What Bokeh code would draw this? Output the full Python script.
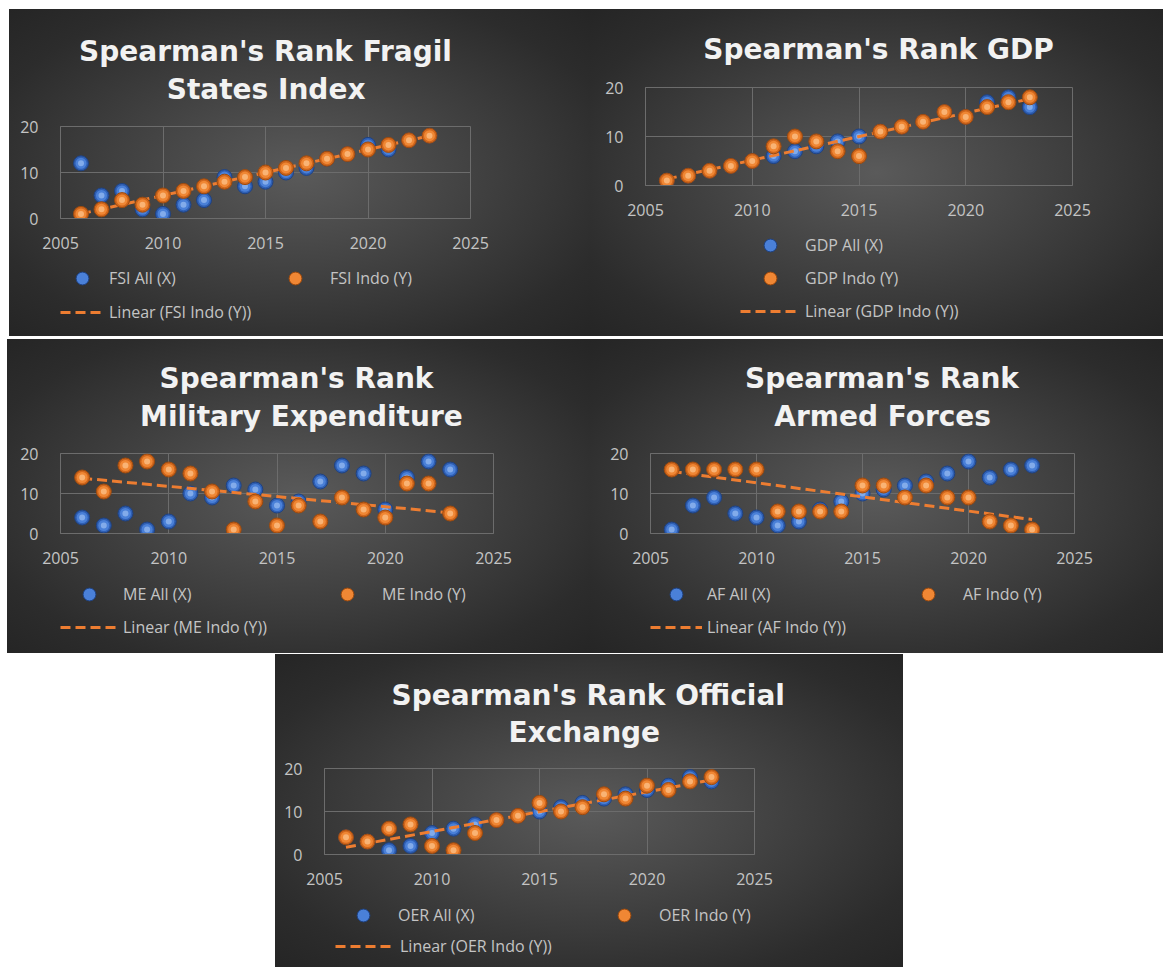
import numpy as np
from bokeh.plotting import figure
from bokeh.models import FixedTicker, Legend, LegendItem, Spacer, Row, Column
from bokeh.embed import file_html
from bokeh.resources import INLINE

years = list(range(2006, 2024))

fsi_all = [12, 5, 6, 2, 1, 3, 4, 9, 7, 8, 10, 11, 13, 14, 16, 15, 17, 18]
fsi_indo = [1, 2, 4, 3, 5, 6, 7, 8, 9, 10, 11, 12, 13, 14, 15, 16, 17, 18]

gdp_all = [1, 2, 3, 4, 5, 6, 7, 8, 9, 10, 11, 12, 13, 15, 14, 17, 18, 16]
gdp_indo = [1, 2, 3, 4, 5, 8, 10, 9, 7, 6, 11, 12, 13, 15, 14, 16, 17, 18]

me_all = [4, 2, 5, 1, 3, 10, 9, 12, 11, 7, 8, 13, 17, 15, 6, 14, 18, 16]
me_indo = [14, 10.5, 17, 18, 16, 15, 10.5, 1, 8, 2, 7, 3, 9, 6, 4, 12.5, 12.5, 5]

af_all = [1, 7, 9, 5, 4, 2, 3, 6, 8, 10, 11, 12, 13, 15, 18, 14, 16, 17]
af_indo = [16, 16, 16, 16, 16, 5.5, 5.5, 5.5, 5.5, 12, 12, 9, 12, 9, 9, 3, 2, 1]

oer_all = [4, 3, 1, 2, 5, 6, 7, 8, 9, 10, 11, 12, 13, 14, 15, 16, 18, 17]
oer_indo = [4, 3, 6, 7, 2, 1, 5, 8, 9, 12, 10, 11, 14, 13, 16, 15, 17, 18]

x_ticks = [2005, 2010, 2015, 2020, 2025]
y_ticks = [0, 10, 20]

TXT = "#c4c4c4"
GRID = "#6c6c6c"
FONT = "Open Sans"
TFONT = "DejaVu Sans"
BG = ("radial-gradient(ellipse at 50% 50%, #5a5a5a 0%, #434343 40%, "
      "#2c2c2c 80%, #252525 100%)")
NB = "\u00a0"
AXH = 44


def spheres(p, x, y, dark, edge, mid, light):
    r1 = p.scatter(x, y, size=15, fill_color=dark, line_color=edge,
                   line_width=1)
    r2 = p.scatter(x, y, size=11, fill_color=mid, line_alpha=0)
    r3 = p.scatter(x, y, size=6, fill_color=light, fill_alpha=0.6,
                   line_alpha=0)
    return [r1, r2, r3]


BLUE = ("#2f5fb3", "#1f4282", "#4a80d8", "#a9c8f6")
ORANGE = ("#d0661c", "#9c4a0e", "#f08734", "#ffd0a0")


def panel(lines, pads, standoff, prefix, all_v, indo_v, ox, oy, W, H,
          frame, leg):
    fx0, fx1, fy0, fy1 = frame
    hm = fy1 - oy + AXH
    p = figure(width=W, height=hm, x_range=(2005, 2025), y_range=(0, 20),
               output_backend="svg", toolbar_location=None,
               min_border_left=fx0 - ox, min_border_right=ox + W - fx1,
               min_border_top=fy0 - oy, min_border_bottom=AXH)
    p.background_fill_color = None
    p.border_fill_color = None
    p.outline_line_color = GRID
    p.title.text = "\n".join(NB * n + s for n, s in zip(pads, lines))
    p.title.align = "center"
    p.title.standoff = standoff
    p.title.text_font = TFONT
    p.title.text_font_style = "bold"
    p.title.text_font_size = "28px"
    p.title.text_color = "#f2f2f2"
    p.title.text_line_height = 1.15

    for ax, ticks in ((p.xaxis, x_ticks), (p.yaxis, y_ticks)):
        ax.ticker = FixedTicker(ticks=ticks)
        ax.major_tick_line_color = None
        ax.minor_tick_line_color = None
        ax.axis_line_color = GRID
        ax.major_label_text_color = TXT
        ax.major_label_text_font = FONT
        ax.major_label_text_font_size = "16px"
    p.xaxis.major_label_standoff = 12
    p.yaxis.major_label_standoff = 16
    p.xgrid.grid_line_color = GRID
    p.ygrid.grid_line_color = GRID

    spheres(p, years, all_v, *BLUE)
    k, b = np.polyfit(years, indo_v, 1)
    xs = [years[0], years[-1]]
    ys = [k * x + b for x in xs]
    p.line(xs, ys, line_color="#ed7d31", line_width=3, line_dash="10 5")
    spheres(p, years, indo_v, *ORANGE)

    # legend strip: same data, drawn outside its own ranges, so only the
    # legend glyphs show
    hl = H - hm
    q = figure(width=W, height=hl, x_range=(0, 1), y_range=(0, 1),
               output_backend="svg", toolbar_location=None,
               x_axis_location=None, y_axis_location=None,
               title_location=None, min_border=0)
    q.background_fill_color = None
    q.border_fill_color = None
    q.outline_line_color = None
    q.xgrid.visible = False
    q.ygrid.visible = False
    lb = q.scatter(years, all_v, size=15, fill_color=BLUE[2],
                   line_color=BLUE[1], line_width=1)
    lo = q.scatter(years, indo_v, size=15, fill_color=ORANGE[2],
                   line_color=ORANGE[1], line_width=1)
    ll = q.line(xs, ys, line_color="#ed7d31", line_width=3,
                line_dash="10 5")
    labels = [f"{prefix} All (X)", f"{prefix} Indo (Y)",
              f"Linear ({prefix} Indo (Y))"]
    for lab, rr, (sx, cy) in zip(labels, [lb, lo, ll], leg):
        start = max(sx, fx0)
        gw = 60 - (start - sx)
        lg = Legend(items=[LegendItem(label=lab, renderers=[rr])],
                    location=(start - fx0, (oy + H) - (cy + 16)),
                    padding=0, margin=0, spacing=0,
                    glyph_width=gw, glyph_height=32, label_height=32,
                    label_standoff=5, background_fill_alpha=0,
                    border_line_alpha=0, label_text_color=TXT,
                    label_text_font=FONT, label_text_font_size="16px")
        q.add_layout(lg)
    return Column(children=[p, q], spacing=0, styles={"background": BG})


c1 = panel(["Spearman's Rank Fragil", "States Index"], [0, 9], 41, "FSI",
           fsi_all, fsi_indo, 9, 9, 581, 327, (60, 470, 126, 218),
           [(44, 278), (265, 278), (44, 312)])
c2 = panel(["Spearman's Rank GDP"], [4], 43, "GDP", gdp_all, gdp_indo,
           590, 9, 573, 327, (645, 1072, 86, 185),
           [(740, 245), (740, 278), (740, 311)])
c3 = panel(["Spearman's Rank", "Military Expenditure"], [7, 5], 41, "ME",
           me_all, me_indo, 7, 339, 583, 314, (60, 493, 453, 533),
           [(58, 594), (317, 594), (58, 627)])
c4 = panel(["Spearman's Rank", "Armed Forces"], [4, 7], 41, "AF",
           af_all, af_indo, 590, 339, 573, 314, (650, 1074, 453, 533),
           [(642, 594), (898, 594), (642, 627)])
c5 = panel(["Spearman's Rank Official", "Exchange"], [10, 22], 38, "OER",
           oer_all, oer_indo, 275, 654, 628, 313, (324, 754, 768, 854),
           [(333, 915), (594, 915), (335, 946)])

row1 = Row(children=[Spacer(width=9, height=327), c1, c2], spacing=0)
row2 = Row(children=[Spacer(width=7, height=314), c3, c4], spacing=0)
row3 = Row(children=[Spacer(width=275, height=313), c5], spacing=0)
layout = Column(children=[Spacer(width=1163, height=9), row1,
                          Spacer(width=1163, height=3), row2,
                          Spacer(width=1163, height=1), row3], spacing=0)

open("out.html", "w").write(file_html(layout, INLINE))
